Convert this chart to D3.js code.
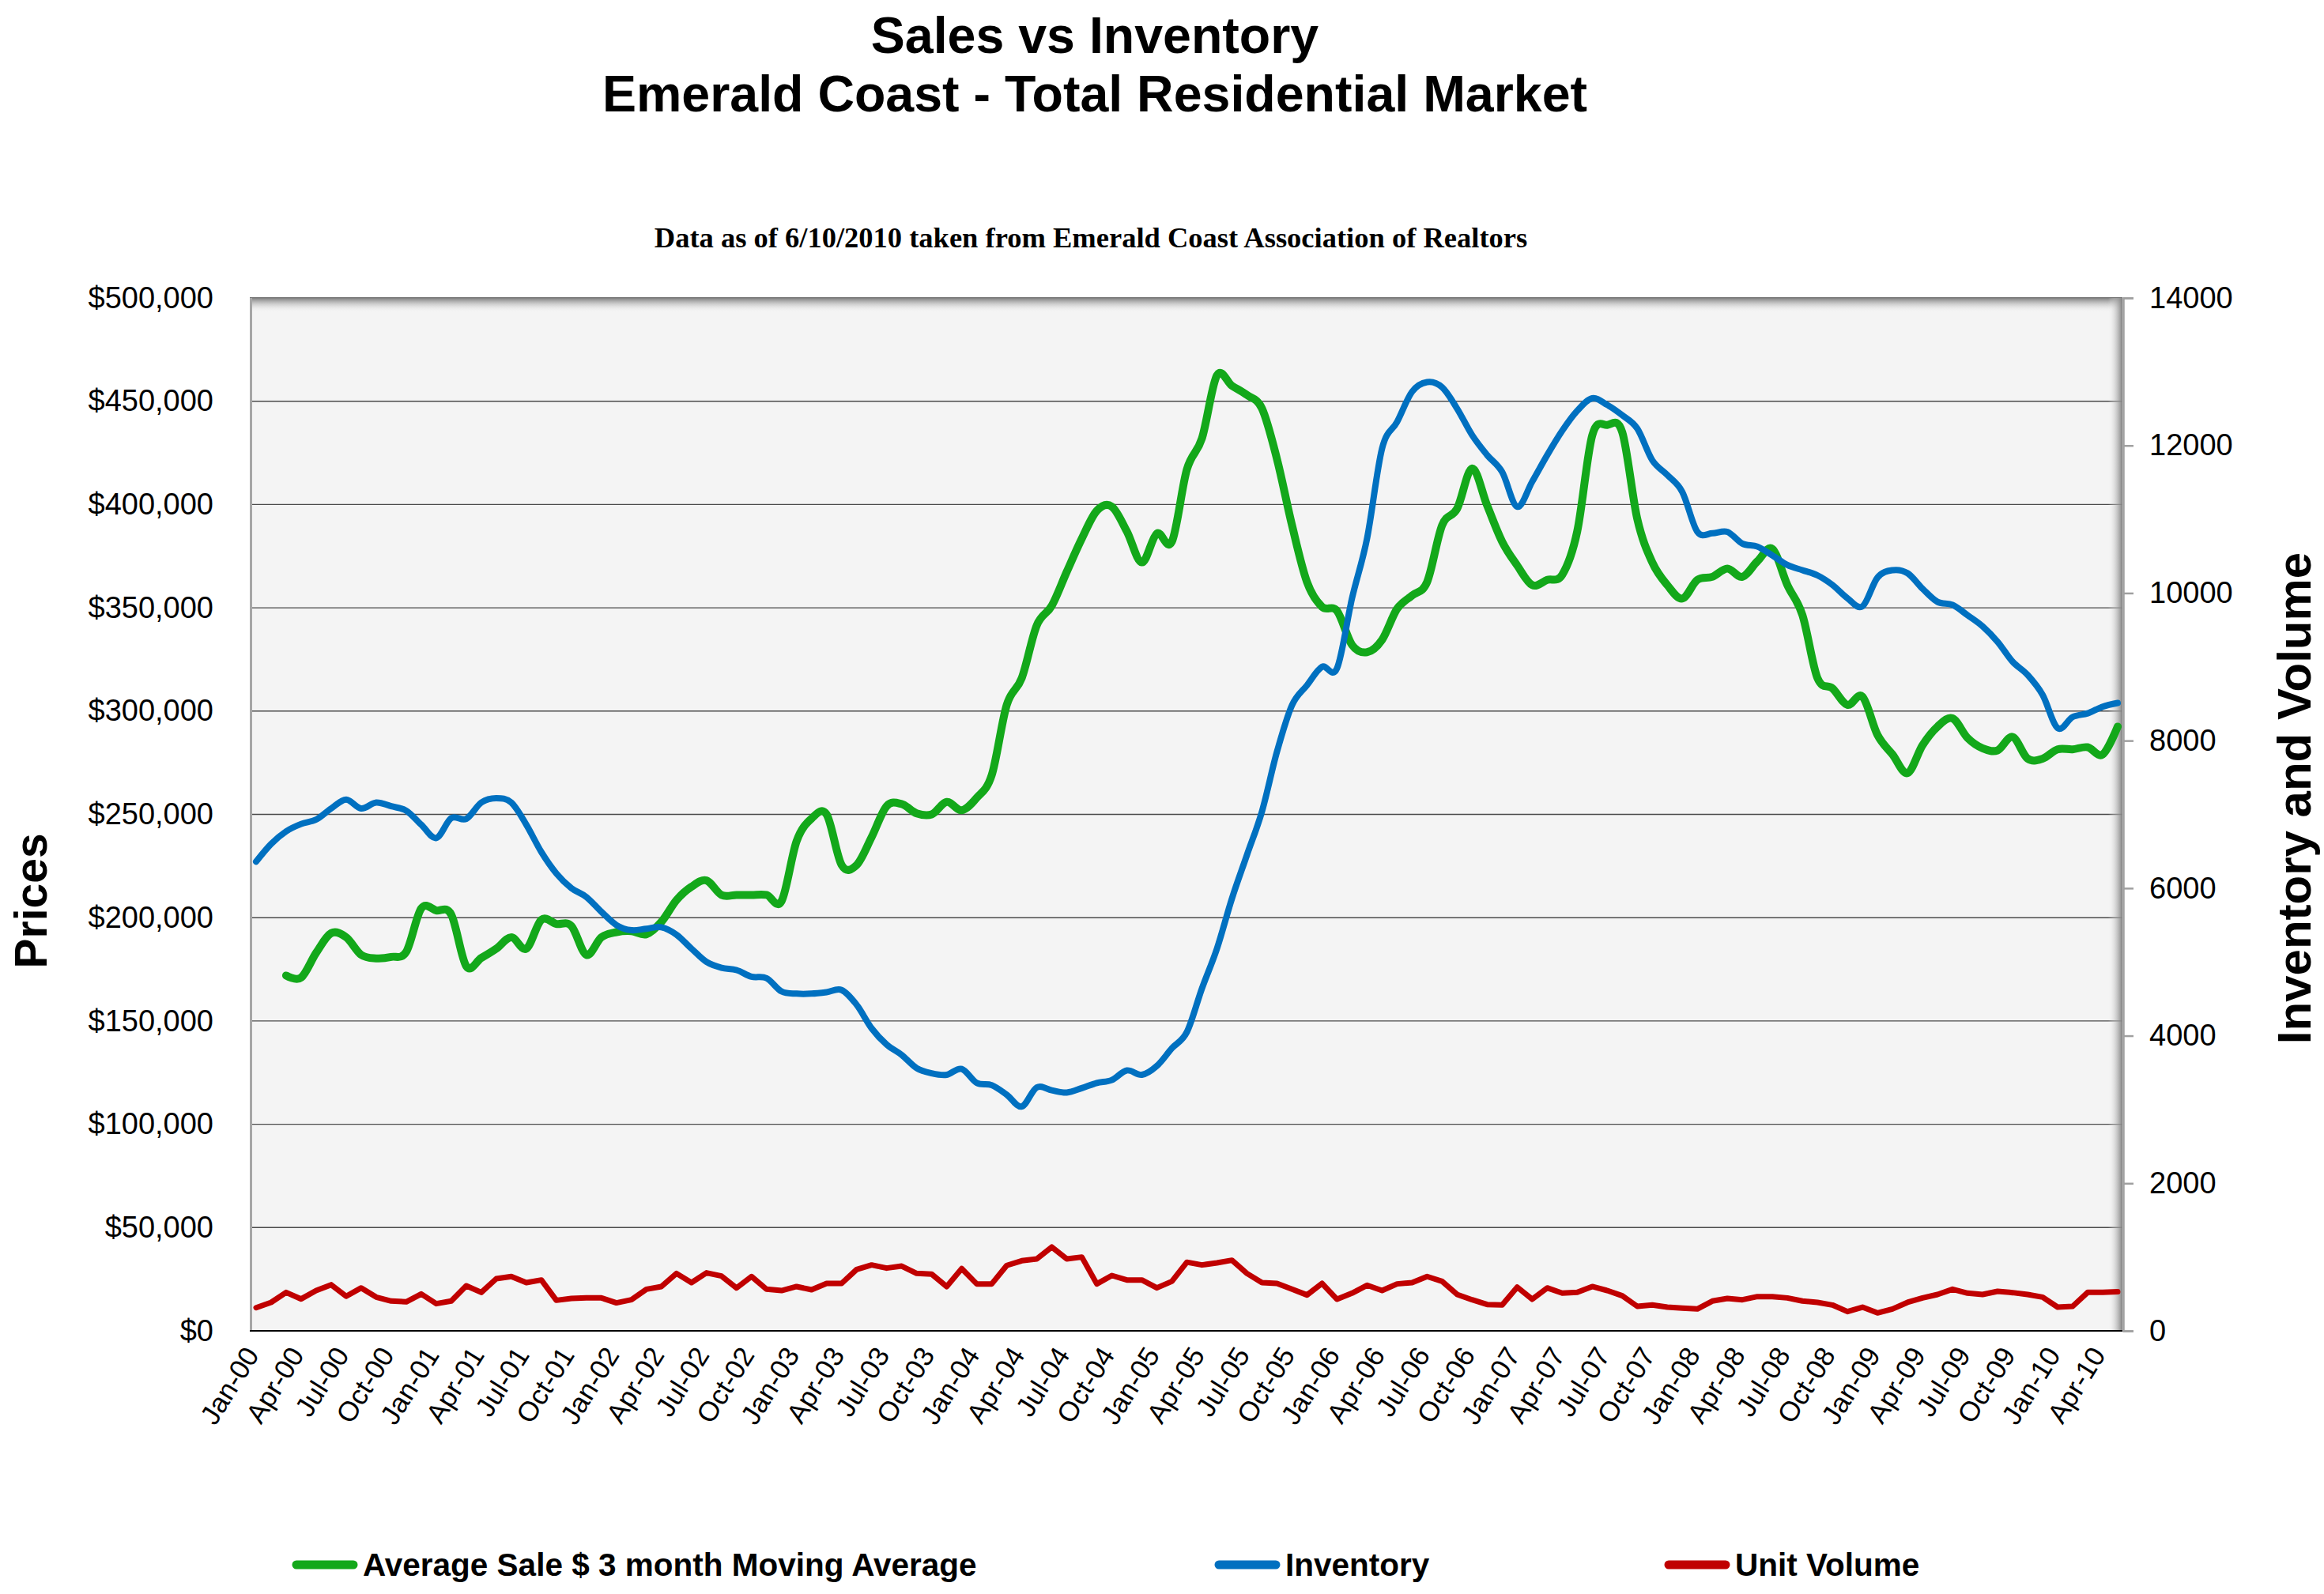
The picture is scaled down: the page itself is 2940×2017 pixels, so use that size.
<!DOCTYPE html>
<html><head><meta charset="utf-8">
<script src="https://cdn.jsdelivr.net/npm/d3@7"></script>
<style>html,body{margin:0;padding:0;background:#fff}svg{display:block}</style>
</head><body><svg id="chart" width="2940" height="2017"></svg>
<script>
const categories = [
"Jan-00","Feb-00","Mar-00","Apr-00","May-00","Jun-00","Jul-00","Aug-00","Sep-00","Oct-00","Nov-00","Dec-00",
"Jan-01","Feb-01","Mar-01","Apr-01","May-01","Jun-01","Jul-01","Aug-01","Sep-01","Oct-01","Nov-01","Dec-01",
"Jan-02","Feb-02","Mar-02","Apr-02","May-02","Jun-02","Jul-02","Aug-02","Sep-02","Oct-02","Nov-02","Dec-02",
"Jan-03","Feb-03","Mar-03","Apr-03","May-03","Jun-03","Jul-03","Aug-03","Sep-03","Oct-03","Nov-03","Dec-03",
"Jan-04","Feb-04","Mar-04","Apr-04","May-04","Jun-04","Jul-04","Aug-04","Sep-04","Oct-04","Nov-04","Dec-04",
"Jan-05","Feb-05","Mar-05","Apr-05","May-05","Jun-05","Jul-05","Aug-05","Sep-05","Oct-05","Nov-05","Dec-05",
"Jan-06","Feb-06","Mar-06","Apr-06","May-06","Jun-06","Jul-06","Aug-06","Sep-06","Oct-06","Nov-06","Dec-06",
"Jan-07","Feb-07","Mar-07","Apr-07","May-07","Jun-07","Jul-07","Aug-07","Sep-07","Oct-07","Nov-07","Dec-07",
"Jan-08","Feb-08","Mar-08","Apr-08","May-08","Jun-08","Jul-08","Aug-08","Sep-08","Oct-08","Nov-08","Dec-08",
"Jan-09","Feb-09","Mar-09","Apr-09","May-09","Jun-09","Jul-09","Aug-09","Sep-09","Oct-09","Nov-09","Dec-09",
"Jan-10","Feb-10","Mar-10","Apr-10","May-10"];

const avgSale = [null,null,
172000,171000,183000,192500,190500,182000,180300,181000,183500,204500,
203500,201500,176500,180500,185000,190500,185000,199000,197000,196000,
182000,190500,193000,193500,192000,198000,208500,215000,218000,211000,
211000,211000,211000,208000,237000,248000,250000,225500,225500,239000,
254000,255000,250500,250000,256000,252000,258000,269000,303000,316000,
341500,351000,367500,383500,397000,399000,387000,372000,386000,382000,
417000,432000,462500,457500,453000,446500,422000,390000,362500,350500,
348500,332000,328500,334500,349500,356000,362500,390000,398000,417500,
399500,382000,370500,361000,363500,366000,387000,433500,438500,435000,
393000,372000,361000,354500,363500,365000,369000,365000,372500,378500,
361000,346500,316000,311000,303000,307000,288500,279000,270000,283500,
292500,296500,287000,282000,281000,287500,277000,277000,281500,281500,
282500,279000,292500];

const inventory = [
6360,6600,6770,6870,6930,7080,7200,7080,7160,7110,
7050,6860,6680,6950,6940,7160,7220,7160,6860,6490,
6200,6000,5880,5680,5500,5430,5450,5470,5370,5180,
5000,4920,4890,4800,4780,4600,4570,4570,4590,4620,
4420,4100,3880,3740,3560,3490,3470,3550,3360,3330,
3200,3040,3300,3260,3230,3290,3360,3400,3530,3470,
3590,3830,4050,4640,5180,5860,6450,7040,7850,8480,
8750,9000,8980,9930,10740,11960,12320,12730,12860,12790,
12500,12140,11870,11640,11170,11510,11870,12200,12470,12640,
12550,12410,12230,11800,11600,11370,10830,10810,10830,10670,
10630,10510,10380,10310,10240,10110,9930,9820,10210,10310,
10270,10060,9880,9840,9700,9550,9340,9070,8890,8620,
8170,8320,8370,8460,8510];

const unitVolume = [
314,386,521,432,546,625,468,582,457,404,
393,500,368,404,611,521,707,736,653,689,
414,439,446,446,379,421,564,600,778,653,
786,743,582,736,564,546,600,557,643,643,
832,893,850,878,778,768,600,843,636,636,
886,950,975,1136,975,1000,636,750,689,689,
582,671,930,893,921,957,778,653,643,564,
486,643,428,511,618,546,636,653,736,671,
493,421,357,350,593,428,582,511,521,600,
546,475,332,350,321,307,296,404,439,421,
464,464,446,404,386,350,261,321,243,296,
386,446,493,564,511,493,536,518,493,457,
321,332,521,521,529];

const priceTicks = [0,50000,100000,150000,200000,250000,300000,350000,400000,450000,500000];
const countTicks = [0,2000,4000,6000,8000,10000,12000,14000];
const xTickLabels = ["Jan-00","Apr-00","Jul-00","Oct-00","Jan-01","Apr-01","Jul-01","Oct-01","Jan-02","Apr-02","Jul-02","Oct-02",
"Jan-03","Apr-03","Jul-03","Oct-03","Jan-04","Apr-04","Jul-04","Oct-04","Jan-05","Apr-05","Jul-05","Oct-05",
"Jan-06","Apr-06","Jul-06","Oct-06","Jan-07","Apr-07","Jul-07","Oct-07","Jan-08","Apr-08","Jul-08","Oct-08",
"Jan-09","Apr-09","Jul-09","Oct-09","Jan-10","Apr-10"];

const seriesNames = ["Average Sale $ 3 month Moving Average","Inventory","Unit Volume"];
const colors = {green:"#13a81a", blue:"#0070c0", red:"#c00000"};

const svg = d3.select("#chart");
const FONT = "'Liberation Sans', Arial, sans-serif";
const P = {l:316, r:2685, t:377, b:1684};

const x = d3.scaleLinear().domain([0, categories.length - 1]).range([324, 2679]);
const yL = d3.scaleLinear().domain([0, 500000]).range([P.b, P.t]);
const yR = d3.scaleLinear().domain([0, 14000]).range([P.b, P.t]);

svg.append("rect").attr("width",2940).attr("height",2017).attr("fill","#fff");

// defs
const defs = svg.append("defs");
const gTop = defs.append("linearGradient").attr("id","shTop").attr("x1",0).attr("y1",0).attr("x2",0).attr("y2",1);
gTop.append("stop").attr("offset","0%").attr("stop-color","#7f7f7f").attr("stop-opacity",1);
gTop.append("stop").attr("offset","100%").attr("stop-color","#f4f4f4").attr("stop-opacity",0);
const gRight = defs.append("linearGradient").attr("id","shRight").attr("x1",0).attr("y1",0).attr("x2",1).attr("y2",0);
gRight.append("stop").attr("offset","0%").attr("stop-color","#f4f4f4").attr("stop-opacity",0);
gRight.append("stop").attr("offset","100%").attr("stop-color","#808080").attr("stop-opacity",1);

// plot background
svg.append("rect").attr("x",P.l).attr("y",P.t).attr("width",P.r-P.l).attr("height",P.b-P.t).attr("fill","#f4f4f4");

// gridlines
svg.append("g").selectAll("line").data(priceTicks.filter(d=>d>0)).join("line")
  .attr("x1",P.l).attr("x2",P.r).attr("y1",d=>yL(d)).attr("y2",d=>yL(d))
  .attr("stroke","#4a4a4a").attr("stroke-width",1.4);

// shadows
svg.append("rect").attr("x",P.l).attr("y",P.t).attr("width",P.r-P.l).attr("height",18).attr("fill","url(#shTop)");
svg.append("rect").attr("x",P.r-18).attr("y",P.t).attr("width",18).attr("height",P.b-P.t).attr("fill","url(#shRight)");
svg.append("line").attr("x1",P.l+1.5).attr("x2",P.l+1.5).attr("y1",P.t).attr("y2",P.b).attr("stroke","#a6a6a6").attr("stroke-width",3);

// left axis
const axL = svg.append("g").attr("transform",`translate(${P.l},0)`)
  .call(d3.axisLeft(yL).tickValues(priceTicks).tickFormat(d3.format("$,")).tickSize(0).tickPadding(46));
axL.select(".domain").remove();
axL.selectAll("text").attr("font-family",FONT).attr("font-size",38).attr("fill","#000");

// right axis
const axR = svg.append("g").attr("transform",`translate(${P.r+1},0)`)
  .call(d3.axisRight(yR).tickValues(countTicks).tickFormat(d3.format("d")).tickSize(13).tickPadding(20));
axR.select(".domain").attr("stroke","#a0a0a0").attr("stroke-width",2.5);
axR.selectAll(".tick line").attr("stroke","#a0a0a0").attr("stroke-width",2.5);
axR.selectAll("text").attr("font-family",FONT).attr("font-size",38).attr("fill","#000");

// bottom axis
const tickIdx = xTickLabels.map(l => categories.indexOf(l));
const axB = svg.append("g").attr("transform",`translate(0,${P.b})`)
  .call(d3.axisBottom(x).tickValues(tickIdx).tickFormat(i => categories[i]).tickSize(0));
axB.select(".domain").attr("stroke","#000").attr("stroke-width",2).attr("d",`M${P.l},0H${P.r}`);
axB.selectAll("text").attr("font-family",FONT).attr("font-size",35).attr("fill","#000")
  .attr("text-anchor","end").attr("x",0).attr("y",0).attr("dy","0.35em")
  .attr("transform","translate(-6,24) rotate(-58)");

// series
const pts = arr => arr.map((v,i)=>({i, v}));
const smooth = d3.curveCatmullRom.alpha(0);
const lineL = d3.line().defined(d=>d.v!=null).x(d=>x(d.i)).y(d=>yL(d.v)).curve(smooth);
const lineR = d3.line().x(d=>x(d.i)).y(d=>yR(d.v)).curve(smooth);
const lineRlin = d3.line().x(d=>x(d.i)).y(d=>yR(d.v)).curve(d3.curveLinear);

svg.append("path").attr("d",lineRlin(pts(unitVolume))).attr("fill","none")
  .attr("stroke",colors.red).attr("stroke-width",7).attr("stroke-linejoin","round").attr("stroke-linecap","round");
svg.append("path").attr("d",lineL(pts(avgSale))).attr("fill","none")
  .attr("stroke",colors.green).attr("stroke-width",10).attr("stroke-linejoin","round").attr("stroke-linecap","round");
svg.append("path").attr("d",lineR(pts(inventory))).attr("fill","none")
  .attr("stroke",colors.blue).attr("stroke-width",8).attr("stroke-linejoin","round").attr("stroke-linecap","round");

// titles
svg.append("text").attr("x",1385).attr("y",67).attr("text-anchor","middle")
  .attr("font-family",FONT).attr("font-weight","bold").attr("font-size",64.5).text("Sales vs Inventory");
svg.append("text").attr("x",1385).attr("y",141).attr("text-anchor","middle")
  .attr("font-family",FONT).attr("font-weight","bold").attr("font-size",64.5).text("Emerald Coast - Total Residential Market");
svg.append("text").attr("x",1380).attr("y",313).attr("text-anchor","middle")
  .attr("font-family","'Liberation Serif','Times New Roman',serif").attr("font-weight","bold").attr("font-size",36.5)
  .text("Data as of 6/10/2010 taken from Emerald Coast Association of Realtors");

// axis titles
svg.append("text").attr("transform","translate(39,1140) rotate(-90)").attr("text-anchor","middle").attr("dy","0.35em")
  .attr("font-family",FONT).attr("font-weight","bold").attr("font-size",57).text("Prices");
svg.append("text").attr("transform","translate(2902,1010) rotate(-90)").attr("text-anchor","middle").attr("dy","0.35em")
  .attr("font-family",FONT).attr("font-weight","bold").attr("font-size",60).text("Inventory and Volume");

// legend
const legend = [
  {name: seriesNames[0], color: colors.green, x: 370},
  {name: seriesNames[1], color: colors.blue, x: 1537},
  {name: seriesNames[2], color: colors.red, x: 2106}
];
const lg = svg.append("g").selectAll("g").data(legend).join("g");
lg.append("line").attr("x1",d=>d.x+5).attr("x2",d=>d.x+77).attr("y1",1980).attr("y2",1980)
  .attr("stroke",d=>d.color).attr("stroke-width",11).attr("stroke-linecap","round");
lg.append("text").attr("x",d=>d.x+89).attr("y",1980).attr("dy","0.35em")
  .attr("font-family",FONT).attr("font-weight","bold").attr("font-size",40.5).text(d=>d.name);
</script></body></html>
